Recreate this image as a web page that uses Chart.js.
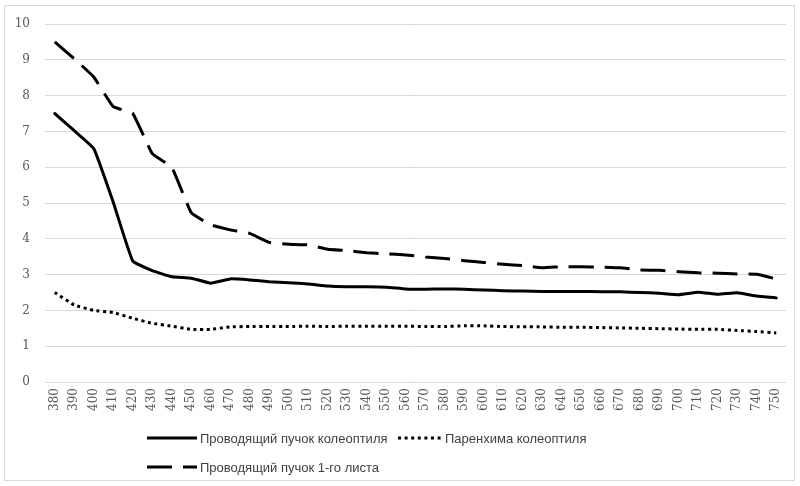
<!DOCTYPE html>
<html>
<head>
<meta charset="utf-8">
<script src="https://cdn.jsdelivr.net/npm/chart.js@4.4.1/dist/chart.umd.min.js"></script>
<style>
  html, body { margin: 0; padding: 0; background: #ffffff; }
  #wrap { position: relative; width: 800px; height: 486px; overflow: hidden; }
  #frame { position: absolute; left: 4px; top: 5px; width: 791px; height: 476px; border: 1px solid #d9d9d9; box-sizing: border-box; pointer-events: none; }
  canvas { position: absolute; left: 0; top: 0; }
  #legend { position: absolute; left: 147px; top: 429px; display: grid; grid-template-columns: 251px auto; row-gap: 11px;
            font-family: 'Liberation Sans', Arial, sans-serif; font-size: 13px; color: #404040; }
  .item { display: flex; align-items: center; height: 18px; white-space: nowrap; }
  .item svg { margin-right: 3px; }
</style>
</head>
<body>
<div id="wrap">
  <canvas id="c" width="800" height="486"></canvas>
  <div id="frame"></div>
  <div id="legend"></div>
</div>
<script>
const wavelengths = ["380","390","400","410","420","430","440","450","460","470","480","490","500","510","520","530","540","550","560","570","580","590","600","610","620","630","640","650","660","670","680","690","700","710","720","730","740","750"];

const seriesNames = ["Проводящий пучок колеоптиля", "Паренхима колеоптиля", "Проводящий пучок 1-го листа"];

const vascularColeoptile = [7.5, 7.02, 6.52, 5.02, 3.38, 3.11, 2.94, 2.9, 2.76, 2.88, 2.85, 2.8, 2.77, 2.74, 2.68, 2.66, 2.66, 2.65, 2.6, 2.59, 2.6, 2.59, 2.57, 2.55, 2.54, 2.53, 2.53, 2.53, 2.52, 2.52, 2.5, 2.48, 2.44, 2.51, 2.45, 2.49, 2.4, 2.35];

const parenchymaColeoptile = [2.5, 2.15, 2.0, 1.94, 1.78, 1.64, 1.56, 1.47, 1.47, 1.54, 1.55, 1.55, 1.55, 1.56, 1.55, 1.56, 1.56, 1.56, 1.56, 1.55, 1.55, 1.57, 1.57, 1.55, 1.54, 1.54, 1.53, 1.53, 1.52, 1.51, 1.5, 1.49, 1.48, 1.47, 1.47, 1.44, 1.41, 1.37];

const vascularLeaf = [9.5, 9.03, 8.52, 7.69, 7.5, 6.38, 6.0, 4.73, 4.39, 4.25, 4.15, 3.9, 3.85, 3.83, 3.71, 3.67, 3.61, 3.58, 3.55, 3.49, 3.45, 3.39, 3.34, 3.29, 3.25, 3.19, 3.22, 3.22, 3.21, 3.19, 3.13, 3.12, 3.08, 3.05, 3.04, 3.02, 3.01, 2.88];

const yTicks = [0, 1, 2, 3, 4, 5, 6, 7, 8, 9, 10];

const styles = [
  { dash: [], cap: 'round' },
  { dash: [3, 3.6], cap: 'butt' },
  { dash: [25, 11], cap: 'butt' }
];
const seriesData = [vascularColeoptile, parenchymaColeoptile, vascularLeaf];

const tickFont = { family: "'DejaVu Serif', serif", size: 12 };

const chart = new Chart(document.getElementById('c'), {
  type: 'line',
  data: {
    labels: wavelengths,
    datasets: seriesData.map((d, i) => ({
      label: seriesNames[i],
      data: d,
      borderColor: '#000000',
      borderWidth: 3,
      borderDash: styles[i].dash,
      borderCapStyle: styles[i].cap,
      borderJoinStyle: 'round',
      pointRadius: 0,
      fill: false,
      tension: 0.1
    }))
  },
  options: {
    responsive: false,
    animation: false,
    devicePixelRatio: 1,
    layout: { padding: { left: 5, right: 14, top: 24, bottom: 0 } },
    plugins: { legend: { display: false }, tooltip: { enabled: false } },
    scales: {
      x: {
        offset: true,
        grid: { display: false, drawTicks: false, offset: true },
        border: { display: false },
        ticks: { color: '#595959', font: tickFont, minRotation: 90, maxRotation: 90, autoSkip: false, padding: 6 },
        afterFit: (s) => { s.height = 104; }
      },
      y: {
        min: 0, max: 10,
        afterBuildTicks: (s) => { s.ticks = yTicks.map(v => ({ value: v })); },
        grid: { color: '#d9d9d9', lineWidth: 1, drawTicks: false },
        border: { display: false },
        ticks: { color: '#595959', font: tickFont, padding: 15 },
        afterFit: (s) => { s.width = 40; }
      }
    }
  }
});

// HTML legend built from the datasets
const legend = document.getElementById('legend');
[0, 1, 2].forEach((i) => {
  const ds = chart.data.datasets[i];
  const item = document.createElement('div');
  item.className = 'item';
  const w = i === 1 ? 44 : 50;
  const dash = ds.borderDash && ds.borderDash.length ? ds.borderDash.join(' ') : 'none';
  item.innerHTML = '<svg width="' + w + '" height="6"><line x1="0" y1="3" x2="' + w + '" y2="3" stroke="#000" stroke-width="3" stroke-dasharray="' + dash + '"/></svg>';
  const t = document.createElement('span');
  t.textContent = ds.label;
  item.appendChild(t);
  legend.appendChild(item);
});
</script>
</body>
</html>
